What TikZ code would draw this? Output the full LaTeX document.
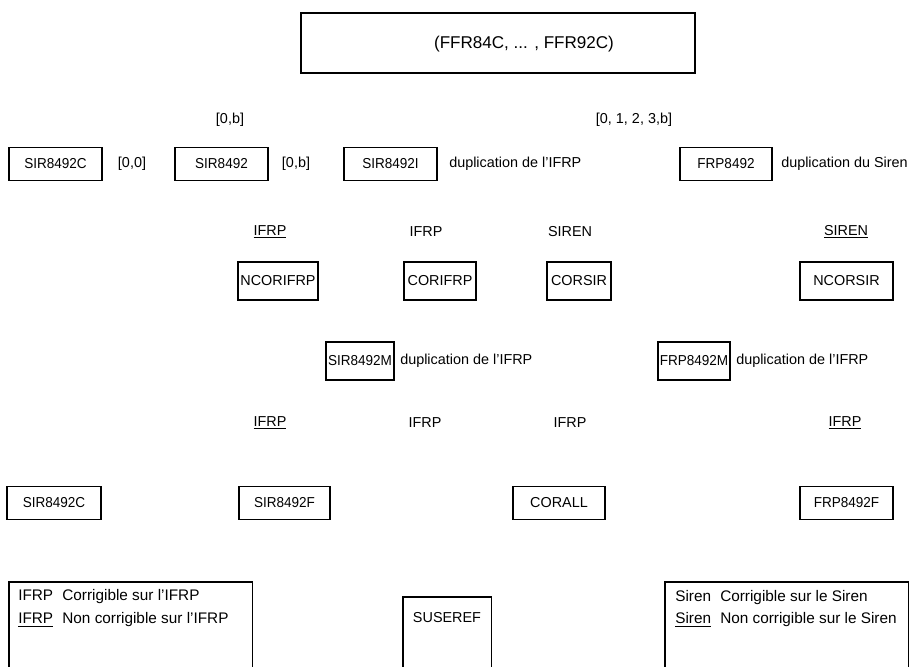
\documentclass[tikz,border=0pt]{standalone}
\usepackage{fontspec}
\setmainfont{Liberation Sans}
\newfontfamily\narrowfam{Liberation Sans}[FakeStretch=0.94]
\newcommand\bodyfs{\fontsize{10.8}{13}\selectfont}
\newcommand\legfs{\fontsize{11.5}{13.5}\selectfont}
\newcommand\titlefs{\fontsize{12.8}{15}\selectfont}
\begin{document}
\begin{tikzpicture}[x=0.75pt,y=-0.75pt,
  box/.style={draw, line width=1pt, inner sep=0pt, font=\bodyfs},
  nbox/.style={box, font=\bodyfs\narrowfam},
  wh/.style 2 args={minimum width=#1*0.75pt, minimum height=#2*0.75pt},
  lbl/.style={inner sep=0pt, font=\bodyfs},
  leg/.style={inner sep=0pt, font=\legfs, anchor=west},
  frame/.style={line width=1pt},
]
\path[use as bounding box] (0,0) rectangle (917,667);

% title
\node[box, wh={394}{60}] (title) at (498,43) {};
\node[inner sep=0pt, font=\titlefs] (titletxt) at (524,44) {(FFR84C, ... , FFR92C)};

% level labels
\node[lbl] (lb1) at (230,120) {[0,b]};
\node[lbl] (lb2) at (634,120) {[0, 1, 2, 3,b]};

% row 1
\node[nbox, wh={93}{33}] (sirc) at (55.5,164) {SIR8492C};
\node[lbl] (l00) at (132,164) {[0,0]};
\node[nbox, wh={93}{33}] (sir) at (221.5,164) {SIR8492};
\node[lbl] (l0b) at (296,164) {[0,b]};
\node[nbox, wh={93}{33}] (siri) at (390.5,164) {SIR8492I};
\node[lbl, anchor=west] (dup1) at (449,164) {duplication de l'IFRP};
\node[nbox, wh={92}{33}] (frp) at (726,164) {FRP8492};
\node[lbl, anchor=west] (dup2) at (781,164) {duplication du Siren};

% row 2 labels
\node[lbl] (a1) at (270,232) {\underline{IFRP}};
\node[lbl] (a2) at (426,232) {IFRP};
\node[lbl] (a3) at (570,232) {SIREN};
\node[lbl] (a4) at (846,232) {\underline{SIREN}};

% row 2 boxes
\node[box, wh={80}{38}] (ncorifrp) at (278,281) {NCORIFRP};
\node[box, wh={72}{38}] (corifrp) at (440,281) {CORIFRP};
\node[box, wh={64}{38}] (corsir) at (579,281) {CORSIR};
\node[box, wh={93}{38}] (ncorsir) at (846.5,281) {NCORSIR};

% row 3
\node[nbox, wh={68}{38}] (sirm) at (360,361) {SIR8492M};
\node[lbl, anchor=west] (dup3) at (400,361) {duplication de l'IFRP};
\node[nbox, wh={72}{38}] (frpm) at (694,361) {FRP8492M};
\node[lbl, anchor=west] (dup4) at (736,361) {duplication de l'IFRP};

% row 3 labels
\node[lbl] (b1) at (270,423) {\underline{IFRP}};
\node[lbl] (b2) at (425,423) {IFRP};
\node[lbl] (b3) at (570,423) {IFRP};
\node[lbl] (b4) at (845,423) {\underline{IFRP}};

% row 4
\node[nbox, wh={94}{33}] (sirc2) at (54,503) {SIR8492C};
\node[nbox, wh={91}{33}] (sirf) at (284.5,503) {SIR8492F};
\node[box, wh={92}{33}] (corall) at (559,503) {CORALL};
\node[nbox, wh={93}{33}] (frpf) at (846.5,503) {FRP8492F};

% bottom row (boxes open at the lower edge)
\node[inner sep=0pt, wh={243}{85}, anchor=north west] (legL) at (9,582) {};
\draw[frame] (legL.south west) |- (legL.north east) -- (legL.south east);
\node[leg] (legL1) at (18,597) {IFRP\hspace{0.6em}Corrigible sur l'IFRP};
\node[leg] (legL2) at (18,620) {\underline{IFRP}\hspace{0.6em}Non corrigible sur l'IFRP};

\node[inner sep=0pt, wh={88}{70}, anchor=north west] (suse) at (403,597) {};
\draw[frame] (suse.south west) |- (suse.north east) -- (suse.south east);
\node[lbl] (susetxt) at (447,618) {SUSEREF};

\node[inner sep=0pt, wh={243}{85}, anchor=north west] (legR) at (665,582) {};
\draw[frame] (legR.south west) |- (legR.north east) -- (legR.south east);
\node[leg] (legR1) at (675,598) {Siren\hspace{0.6em}Corrigible sur le Siren};
\node[leg] (legR2) at (675,620) {\underline{Siren}\hspace{0.6em}Non corrigible sur le Siren};
\end{tikzpicture}
\end{document}
